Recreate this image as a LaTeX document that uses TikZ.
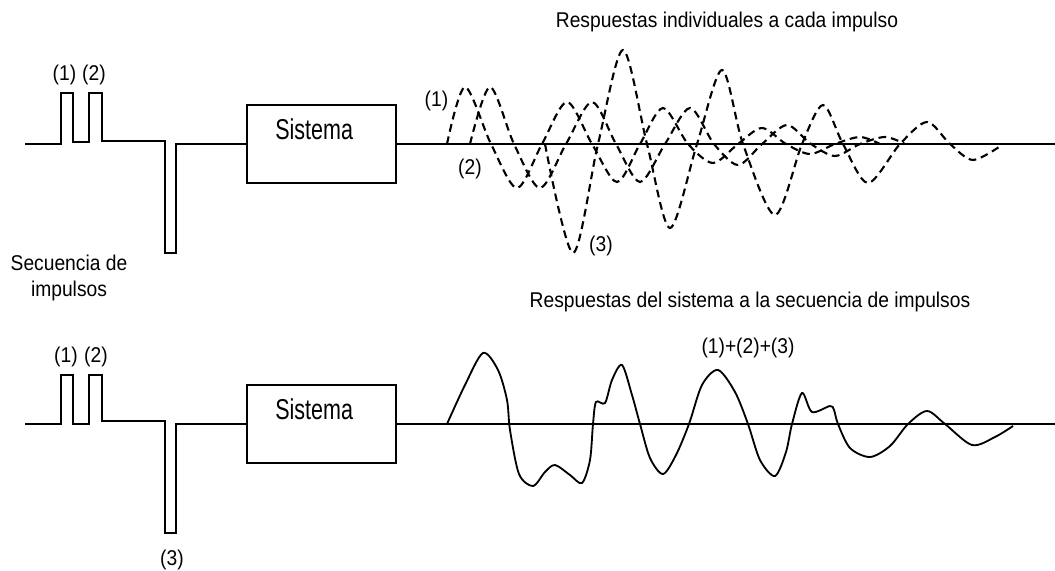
\documentclass[tikz,border=0pt]{standalone}
\usepackage{fontspec}
\setmainfont{Liberation Sans}[FakeStretch=0.9]
\usepackage{graphicx}

\begin{document}
\begin{tikzpicture}[x=0.025cm, y=-0.025cm,
    signal/.style={line width=1.4pt},
    resp/.style={line width=1.5pt, dash pattern=on 5.5pt off 3.5pt},
    sistema/.style={draw, line width=1.4pt, minimum width=3.725cm, minimum height=1.95cm, inner sep=0pt},
    lbl/.style={font=\fontsize{15.2}{18.5}\selectfont, inner sep=0pt, anchor=base},
    boxlbl/.style={font=\fontsize{17}{20}\selectfont, inner sep=0pt, anchor=base west}]
  \useasboundingbox (0,0) rectangle (1055,571);

  % Titles
  \node[lbl] (titind) at (727,28) {Respuestas individuales a cada impulso};
  \node[lbl] (titsum) at (750,308) {Respuestas del sistema a la secuencia de impulsos};
  \node[lbl, anchor=north, align=center] (secuencia) at (69,255) {Secuencia de\\impulsos};

  % Systems
  \node[sistema] (sys1) at (321.5,144) {};
  \node[boxlbl] (sys1txt) at (275,140) {\scalebox{1}[1.2]{Sistema}};
  \node[sistema] (sys2) at (321.5,424) {};
  \node[boxlbl] (sys2txt) at (275,420) {\scalebox{1}[1.2]{Sistema}};
  \coordinate (out1) at (1055,144);
  \coordinate (out2) at (1055,424);

  % Impulse sequence, top
  \draw[signal] (25,144) -- (61,144) -- (61,93) -- (73,93) -- (73,142) -- (89,142) -- (89,93)
    -- (102,93) -- (102,141) -- (165,141) -- (165,253) -- (176,253) -- (176,144) -- (sys1.west);
  \draw[signal] (sys1.east) -- (out1);
  \node[lbl] (p1a) at (64.5,81) {(1)};
  \node[lbl] (p2a) at (94,81) {(2)};

  % Impulse sequence, bottom
  \draw[signal] (25,424) -- (61,424) -- (61,375) -- (73,375) -- (73,424) -- (89,424) -- (89,375)
    -- (102,375) -- (102,421) -- (165,421) -- (165,533) -- (176,533) -- (176,424) -- (sys2.west);
  \draw[signal] (sys2.east) -- (out2);
  \node[lbl] (p1b) at (66,362) {(1)};
  \node[lbl] (p2b) at (96,362) {(2)};
  \node[lbl] (p3b) at (172,565) {(3)};

  % Individual responses
  \draw[resp] plot[smooth] coordinates {(447,144) (465,87) (491,144) (517,188) (542,144) (567,102)
    (592,144) (617,182) (640,144) (663,108) (688,144) (713,163) (738,144) (762,128) (786,144)
    (810,154) (835,144) (860,137) (880,144)};
  \draw[resp] plot[smooth] coordinates {(470,144) (490,87) (514,144) (540,188) (566,144) (592,102)
    (616,144) (640,182) (665,144) (690,108) (714,144) (738,165) (762,144) (787,125) (811,144)
    (835,156) (860,144) (885,137) (905,144)};
  \draw[resp] plot[smooth] coordinates {(545,144) (573,253) (598,144) (623,50) (647,144) (670,228)
    (697,144) (722,70) (743,144) (775,215) (802,144) (823,105) (843,144) (868,183) (900,144)
    (927,122) (950,144) (973,160) (1002,145)};
  \node[lbl] (r1) at (436.5,107) {(1)};
  \node[lbl] (r2) at (470,175) {(2)};
  \node[lbl] (r3) at (601,252) {(3)};

  % Sum of responses
  \draw[signal, line width=1.3pt] plot[smooth] coordinates {(447,424) (465,385) (483,353) (498,370)
    (507,400) (510,430) (519,474) (533,486) (545,472) (555,465) (570,475) (582,483) (590,460)
    (593,424) (596,402) (605,403) (612,380) (622,365) (632,395) (640,424) (650,458) (663,474)
    (676,455) (689,424) (702,385) (718,370) (735,392) (748,424) (760,460) (775,476) (786,452)
    (792,424) (802,393) (812,412) (830,406) (834,410) (838,424) (850,448) (870,457) (890,446)
    (908,424) (927,411) (945,424) (972,445) (995,437) (1013,426)};
  \node[lbl] (rsum) at (748,354) {(1)+(2)+(3)};
\end{tikzpicture}
\end{document}
